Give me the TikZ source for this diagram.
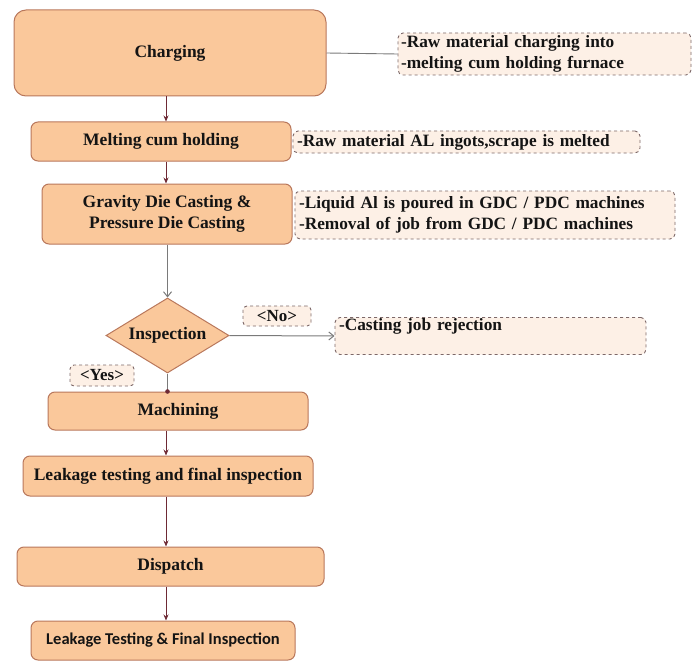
\documentclass[tikz,border=0pt]{standalone}
\usepackage{fontspec}
\setmainfont{Liberation Serif}
\newfontfamily\calfont{Carlito}
\usetikzlibrary{shapes.geometric,arrows.meta}
\definecolor{boxfill}{HTML}{FAC89B}
\definecolor{boxdraw}{HTML}{B9785C}
\definecolor{notefill}{HTML}{FDF0E6}
\definecolor{notedraw}{HTML}{7D6868}
\definecolor{arrred}{HTML}{6E2A35}
\definecolor{arrgray}{HTML}{7A7A7A}
\tikzset{
  x=1pt, y=-1pt,
  stepbox/.style={draw=boxdraw, fill=boxfill, line width=1pt, rounded corners=7pt,
    font=\fontsize{17.5}{21}\selectfont\bfseries, align=center, inner sep=0pt, text=black!92},
  notebox/.style={draw=notedraw, fill=notefill, dashed, line width=0.9pt, rounded corners=5pt,
    font=\fontsize{17.3}{21}\selectfont\bfseries, align=left, inner sep=0pt, text=black!92},
  tagbox/.style={draw=notedraw, fill=notefill, dashed, line width=0.9pt, rounded corners=4pt,
    font=\fontsize{17}{18}\selectfont\bfseries, inner sep=0pt, text=black!92},
  arr/.style={draw=arrred, line width=0.8pt, -{Stealth[length=6pt,width=5pt]}},
  garr/.style={draw=arrgray, line width=1pt, -{Straight Barb[length=5pt,width=8pt]}},
}
\begin{document}
\begin{tikzpicture}
\useasboundingbox (0,0) rectangle (697,661);
% main steps
\node[stepbox, rounded corners=12pt, minimum width=312pt, minimum height=86pt] (charging) at (170,53) {Charging};
\node[stepbox, minimum width=260pt, minimum height=39pt] (melting) at (161,141.5) {Melting cum holding};
\node[stepbox, minimum width=250pt, minimum height=60pt] (gdc) at (167,214) {Gravity Die Casting \&\\Pressure Die Casting};
\node[draw=boxdraw, fill=boxfill, line width=1pt, shape=diamond, aspect=1.64, inner sep=0pt,
      minimum width=123pt, minimum height=75pt, font=\fontsize{17.5}{21}\selectfont\bfseries, text=black!92]
      (insp) at (167.5,335.5) {Inspection};
\node[stepbox, minimum width=260pt, minimum height=38pt] (mach) at (178,411) {Machining};
\node[stepbox, minimum width=290pt, minimum height=40pt] (leak) at (168,476) {Leakage testing and final inspection};
\node[stepbox, minimum width=307pt, minimum height=39pt] (disp) at (170.5,566.5) {Dispatch};
\node[stepbox, minimum width=264pt, minimum height=39pt, font=\calfont\fontsize{16.5}{19}\selectfont\bfseries] (final) at (163,640.5) {Leakage Testing \& Final Inspection};
% notes
\node[notebox, minimum width=293pt, minimum height=42pt, text width=287pt] (n1) at (544.5,54) {-Raw material charging into\\-melting cum holding furnace};
\node[notebox, minimum width=347pt, minimum height=22pt, text width=339pt] (n2) at (466.5,142) {-Raw material AL ingots,scrape is melted};
\node[notebox, minimum width=380pt, minimum height=48pt, text width=372pt] (n3) at (485,215) {-Liquid Al is poured in GDC / PDC machines\\-Removal of job from GDC / PDC machines};
\node[notebox, minimum width=311pt, text width=303pt, text height=13pt, text depth=24pt] (n4) at (490.5,336) {-Casting job rejection};
\node[tagbox, minimum width=68pt, minimum height=20pt] (no) at (277,316) {<No>};
\node[tagbox, minimum width=64pt, minimum height=21pt] (yes) at (102,375.5) {<Yes>};
% connectors
\coordinate (cx) at (166,0);
\draw[draw=arrgray, line width=0.9pt] (charging.east) -- (n1.west);
\draw[arr] (charging.south -| cx) -- (melting.north -| cx);
\draw[arr] (melting.south -| cx) -- (gdc.north -| cx);
\draw[garr] (gdc.south -| insp.north) -- (insp.north);
\draw[garr] (insp.east) -- (n4.west);
\draw[draw=arrgray, line width=1pt] (insp.south) -- (insp.south |- mach.north);
\fill[arrred] (insp.south |- mach.north) circle (2.3pt);
\draw[arr] (mach.south -| cx) -- (leak.north -| cx);
\draw[arr] (leak.south -| cx) -- (disp.north -| cx);
\draw[arr] (disp.south -| cx) -- (final.north -| cx);
\end{tikzpicture}
\end{document}
